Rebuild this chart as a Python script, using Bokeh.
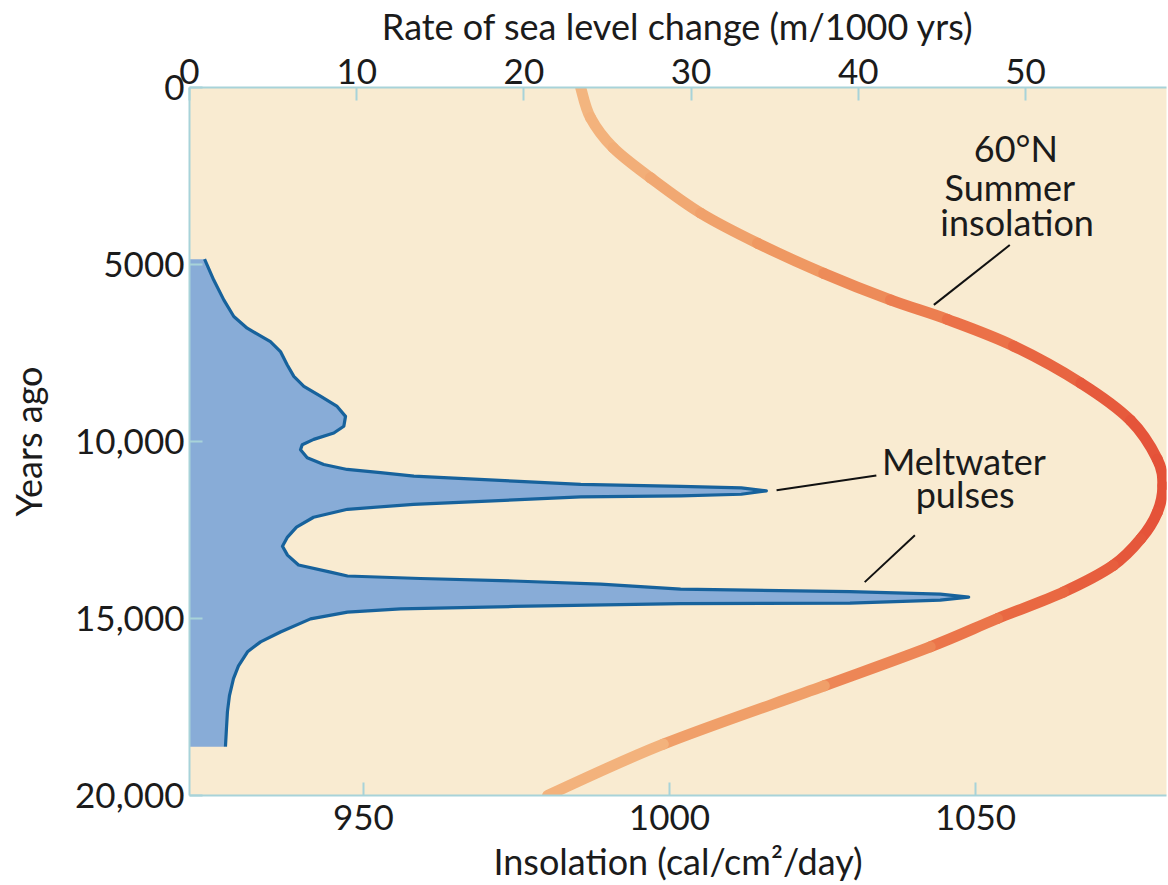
from bokeh.plotting import figure
from bokeh.models import Range1d, LinearAxis, FixedTicker, Label, ColumnDataSource
from bokeh.embed import file_html
from bokeh.resources import INLINE

# ---------------- data ----------------
years_ticks = [0, 5000, 10000, 15000, 20000]
years_tick_labels = ["0", "5000", "10,000", "15,000", "20,000"]
insolation_ticks = [950, 1000, 1050]
rate_ticks = [0, 10, 20, 30, 40, 50]

# 60°N summer insolation (cal/cm2/day) vs years ago
insolation_years = [0, 850, 1700, 2550, 3550, 4400, 5250, 6000, 6550, 7300, 8350,
                    9400, 10500, 11250, 12000, 12750, 13500, 14250, 15000, 15800,
                    16900, 18550, 20000]
insolation_values = [985.5, 987.1, 990.8, 996.9, 1005.1, 1014.4, 1025.2, 1036.1,
                     1045.4, 1056.2, 1067.2, 1075.3, 1079.7, 1080.6, 1079.7, 1077.0,
                     1072.5, 1064.4, 1053.6, 1042.6, 1025.3, 999.0, 980.1]

# Rate of sea level change (m/1000 yrs) vs years ago
meltwater_years = [4850, 5440, 6000, 6470, 6800, 6990, 7180, 7460, 7830, 8160, 8440,
                   8720, 9010, 9290, 9570, 9760, 9940, 10090, 10230, 10460, 10650,
                   10790, 10880, 10980, 11050, 11120, 11210, 11270, 11310, 11394,
                   11490, 11535, 11565, 11650, 11775, 11915, 12140, 12420, 12700,
                   12960, 13210, 13490, 13690, 13800, 13870, 13940, 14030, 14170,
                   14240, 14310, 14394, 14480, 14563, 14580, 14660, 14730, 14820,
                   15010, 15380, 15660, 15940, 16340, 16700, 17180, 17630, 18110,
                   18620]
meltwater_rate = [0.9, 1.45, 2.05, 2.65, 3.45, 4.14, 4.84, 5.44, 5.84, 6.24, 6.84,
                  7.83, 8.83, 9.33, 9.23, 8.63, 7.43, 6.74, 6.64, 7.04, 8.03,
                  9.43, 11.42, 13.42, 16.41, 19.4, 23.4, 29.4, 33.0, 34.5,
                  33.0, 29.4, 23.4, 19.4, 13.4, 9.45, 7.42, 6.4, 5.86,
                  5.56, 5.86, 6.52, 8.43, 9.45, 13.82, 19.38, 24.58, 29.37,
                  39.5, 44.9, 46.6, 44.9, 39.5, 29.37, 19.38, 12.62, 9.45,
                  7.24, 5.44, 4.25, 3.47, 2.93, 2.63, 2.39, 2.27, 2.21,
                  2.15]

# ---------------- styling ----------------
FONT = "Lato"
AXIS_BLUE = "#a8d3d9"
TEXT = "#1b1b1b"
BG = "#f9ebd1"

p = figure(width=1168, height=885,
           x_range=Range1d(921.6, 1081.2), y_range=Range1d(20000, 0),
           output_backend="svg", toolbar_location=None,
           min_border_left=189, min_border_right=2,
           min_border_top=87, min_border_bottom=88,
           background_fill_color=BG, border_fill_color="white",
           outline_line_color=None)
p.extra_x_ranges = {"rate": Range1d(0, 58.43)}
p.xgrid.visible = False
p.ygrid.visible = False

bottom_axis = p.below[0]
left_axis = p.left[0]

top_axis = LinearAxis(x_range_name="rate", ticker=FixedTicker(ticks=rate_ticks),
                      axis_label="Rate of sea level change (m/1000 yrs)")
p.add_layout(top_axis, "above")

bottom_axis.ticker = FixedTicker(ticks=insolation_ticks)
bottom_axis.axis_label = "Insolation (cal/cm²/day)"

left_axis.ticker = FixedTicker(ticks=years_ticks)
left_axis.major_label_overrides = {t: l for t, l in zip(years_ticks, years_tick_labels)}
left_axis.axis_label = "Years ago"

for ax in (top_axis, bottom_axis, left_axis):
    ax.axis_line_color = AXIS_BLUE
    ax.axis_line_width = 2
    ax.major_tick_line_color = AXIS_BLUE
    ax.major_tick_line_width = 2
    ax.major_tick_in = 13
    ax.major_tick_out = 0
    ax.minor_tick_line_color = None
    ax.major_label_text_font = FONT
    ax.major_label_text_font_size = "35px"
    ax.major_label_text_color = TEXT
    ax.axis_label_text_font = FONT
    ax.axis_label_text_font_size = "36px"
    ax.axis_label_text_font_style = "normal"
    ax.axis_label_text_color = TEXT

for ax in (top_axis, bottom_axis):
    ax.major_label_text_line_height = 1.0
    ax.axis_label_text_line_height = 1.0

top_axis.major_label_standoff = 4
top_axis.axis_label_standoff = 8
bottom_axis.major_label_standoff = 9
bottom_axis.axis_label_standoff = 6
left_axis.major_label_standoff = 5
left_axis.axis_label_standoff = 22

# ---------------- meltwater (blue) ----------------
mw = ColumnDataSource(dict(year=meltwater_years, rate=meltwater_rate))
p.harea(x1=0, x2="rate", y="year", source=mw, x_range_name="rate",
        fill_color="#88acd7", fill_alpha=1.0)
p.line(x="rate", y="year", source=mw, x_range_name="rate",
       line_color="#17629c", line_width=3.2, line_join="round")

# ---------------- insolation (smooth gradient orange -> red) ----------------
stops = [(980, (244, 186, 132)), (1020, (239, 152, 98)),
         (1055, (234, 108, 68)), (1081, (228, 80, 56))]


def grad(v):
    if v <= stops[0][0]:
        c = stops[0][1]
    elif v >= stops[-1][0]:
        c = stops[-1][1]
    else:
        for (a, ca), (b, cb) in zip(stops[:-1], stops[1:]):
            if a <= v <= b:
                t = (v - a) / (b - a)
                c = tuple(int(round(ca[i] + (cb[i] - ca[i]) * t)) for i in range(3))
                break
    return "#%02x%02x%02x" % c


xs, ys = insolation_values, insolation_years
n = len(xs)
bz = dict(x0=[], y0=[], x1=[], y1=[], cx0=[], cy0=[], cx1=[], cy1=[], color=[])
for i in range(n - 1):
    ip, inn = max(i - 1, 0), min(i + 2, n - 1)
    bz["x0"].append(xs[i]); bz["y0"].append(ys[i])
    bz["x1"].append(xs[i + 1]); bz["y1"].append(ys[i + 1])
    bz["cx0"].append(xs[i] + (xs[i + 1] - xs[ip]) / 6.0)
    bz["cy0"].append(ys[i] + (ys[i + 1] - ys[ip]) / 6.0)
    bz["cx1"].append(xs[i + 1] - (xs[inn] - xs[i]) / 6.0)
    bz["cy1"].append(ys[i + 1] - (ys[inn] - ys[i]) / 6.0)
    bz["color"].append(grad((xs[i] + xs[i + 1]) / 2))
p.bezier(x0="x0", y0="y0", x1="x1", y1="y1", cx0="cx0", cy0="cy0", cx1="cx1", cy1="cy1",
         source=ColumnDataSource(bz), line_color="color", line_width=11, line_cap="round")

# ---------------- annotations ----------------
leaders = dict(x0=[1017.5, 1031.9, 1043.2], y0=[11380, 13972, 6141],
               x1=[1033.8, 1040.1, 1055.6], y1=[10958, 12648, 4451])
p.segment(x0="x0", y0="y0", x1="x1", y1="y1", source=ColumnDataSource(leaders),
          line_color="#111111", line_width=2)

for txt, x, y in [("60°N", 1056.6, 1718), ("Summer", 1055.6, 2817),
                  ("insolation", 1056.8, 3800), ("Meltwater", 1048.1, 10563),
                  ("pulses", 1048.3, 11493)]:
    p.add_layout(Label(x=x, y=y, text=txt, text_font=FONT, text_font_size="36px",
                       text_color=TEXT, text_align="center", text_baseline="middle"))

open("out.html", "w").write(file_html(p, INLINE, title="Meltwater pulses and insolation"))
